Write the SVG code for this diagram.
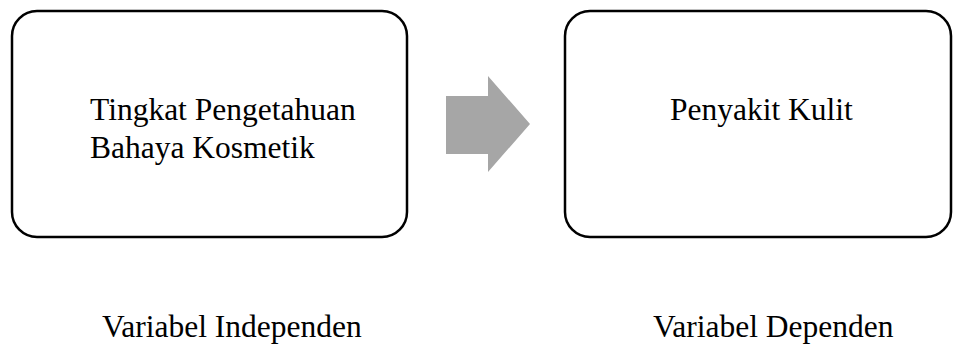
<svg xmlns="http://www.w3.org/2000/svg" width="955" height="349" viewBox="0 0 955 349">
  <style>
    .box { fill: #ffffff; stroke: #000000; stroke-width: 2.5; }
    .label { font-family: "Liberation Serif", "Times New Roman", serif; font-size: 31.5px; fill: #000000; }
    .arrow { fill: #a6a6a6; stroke: none; }
  </style>
  <rect width="955" height="349" fill="#ffffff"/>

  <!-- independent variable -->
  <g id="node-independen">
    <rect class="box" x="12" y="11" width="395" height="226" rx="25" ry="25"/>
    <text class="label" x="90" y="120">Tingkat Pengetahuan</text>
    <text class="label" x="90" y="158">Bahaya Kosmetik</text>
  </g>

  <!-- dependent variable -->
  <g id="node-dependen">
    <rect class="box" x="565" y="11" width="386" height="226" rx="25" ry="25"/>
    <text class="label" x="670" y="120">Penyakit Kulit</text>
  </g>

  <!-- block arrow between the two variables -->
  <g id="connectors">
    <polygon class="arrow" points="446,96 488,96 488,76 530,124 488,172 488,154 446,154"/>
  </g>

  <!-- captions -->
  <g id="caption-independen">
    <text class="label" x="102" y="337">Variabel Independen</text>
  </g>
  <g id="caption-dependen">
    <text class="label" x="653" y="337">Variabel Dependen</text>
  </g>
</svg>
